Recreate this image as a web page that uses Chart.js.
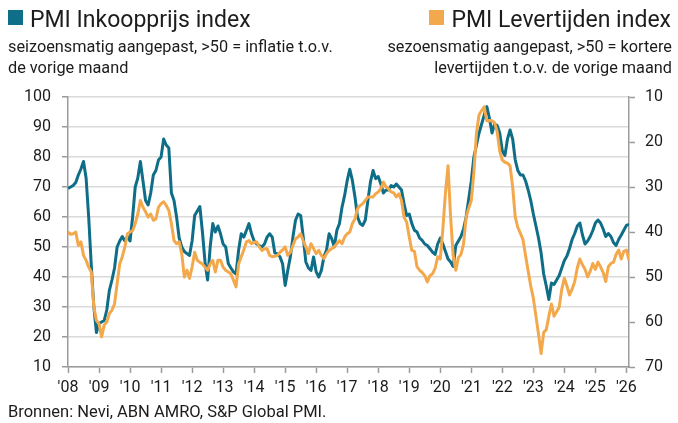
<!DOCTYPE html>
<html><head><meta charset="utf-8">
<script src="https://cdn.jsdelivr.net/npm/chart.js@4.4.1/dist/chart.umd.min.js"></script>
<style>
html,body{margin:0;padding:0;background:#fff;}
#wrap{position:relative;width:678px;height:423px;overflow:hidden;font-family:Roboto,"Noto Sans",sans-serif;color:#1c1c1c;background:#fff;}
#c{position:absolute;left:0;top:0;}
.t{position:absolute;white-space:nowrap;}
.title{font-size:23px;line-height:23px;}
.sub{font-size:16.3px;line-height:20.5px;}
.sq{position:absolute;width:15px;height:15px;}
</style></head>
<body><div id="wrap">
<canvas id="c" width="678" height="423" style="width:678px;height:423px"></canvas>
<div class="sq" style="left:8px;top:10px;background:#0f6f88"></div>
<div class="t title" style="left:30px;top:7.5px">PMI Inkoopprijs index</div>
<div class="t sub" style="left:8px;top:37px">seizoensmatig aangepast, &gt;50 = inflatie t.o.v.<br>de vorige maand</div>
<div class="sq" style="left:429px;top:10px;background:#f2a84c"></div>
<div class="t title" style="right:7px;top:7.5px">PMI Levertijden index</div>
<div class="t sub" style="right:6px;top:37px;text-align:right">sezoensmatig aangepast, &gt;50 = kortere<br>levertijden t.o.v. de vorige maand</div>
<div class="t sub" style="left:8px;top:404px;font-size:16.5px;line-height:16.5px">Bronnen: Nevi, ABN AMRO, S&amp;P Global PMI.</div>
</div>
<script>
// months since Jan 2008 (index 0) ... Feb 2026 (index 217)
const yearLabels = ["'08","'09","'10","'11","'12","'13","'14","'15","'16","'17","'18","'19","'20","'21","'22","'23","'24","'25","'26"];
const yearTicks = [0,12,24,36,48,60,72,84,96,108,120,132,144,156,168,180,192,204,216];

const inkoopprijs = [
69.5,70,70.5,71.5,74,76,78.5,73,60,44,30,21.5,
24.5,25,25.5,29,35.5,39,43,50,52,53.5,52,53.5,
52,60,70,73,78.5,72,65.5,64,68,74,75.5,79,
80,86,84,83,68,65.5,60,53,50,48.5,47.8,47.2,
52,60.5,62,63.5,55,45,39,50,57.8,55,57,54.4,
51,50,44.5,43,41.7,41,49,54.4,53.3,55.5,57.8,54.4,
52,51,50.5,50,51,53.3,54.4,53.3,48,47.8,46.7,44.4,
37.2,42.2,46.7,53.3,58.9,61,60.5,53.3,45,43,42.2,46.7,
41.7,40,42.2,46.7,49,54.4,52.8,50,55.6,57.8,63.3,67.2,
72.2,75.9,72.2,66.7,60,57.8,57.2,59,65.5,71.7,75.5,72.8,
73.5,71,68,69,69,70.5,70,71,70,69,64.4,60.5,
61,57.8,55.6,55,53,52.2,51,50.5,49.4,48.3,47.5,51,
53,51,48.5,46,45,43.5,50.5,52,53.5,56,60,66,
72,80,84,88,91,94,96.8,93,88,91,90.5,88,
82,80.5,86,89,86,79,75.5,74,74,72,69,65.5,
61,57,53,48,41,37,32.5,38,37.5,39,40.5,43,
45.5,47,49.5,52.5,54.5,57,58,54,51,52,53.5,55.5,
58,59,58,56,53.5,54.5,53.5,51.5,50.5,52.5,54,55.6,
57.2,57.5
];

const levertijden = [
40,40.5,40.4,40,43,42.2,45.2,46.3,47.8,48.9,56.7,59.7,
60.4,63.3,60.7,60,58.1,57.4,56,51.5,47.1,45.5,43.3,40.4,
40,39.7,38.1,36,33,34.5,35.5,36.7,36,37.4,37.1,34.5,
33.7,33.3,34.1,35.2,38.1,41.9,42.6,42.2,44.8,50,48.5,50.3,
47.8,44.5,46.3,46.7,47.1,47.8,48.5,47.1,46.3,48.9,46.3,46.3,
47.8,48.5,48.9,49.3,50.7,52.2,47.1,45.5,44,42.2,41.9,42.6,
42.3,42.2,43.3,44.1,43.7,43.7,45.2,45.5,45.4,45.2,44.5,44,
43.3,45.2,44.5,43,41.5,41.1,40.4,42,43.3,44.8,42.6,43.7,
44.8,44.1,45.2,45.9,44.8,44.1,43.7,43.3,42.6,41.9,42.6,41.1,
40.4,40,38.1,37.1,34.8,34.1,33.7,33,32.2,32.2,32.2,31.5,
31.1,30.4,28.9,30,30.4,31.1,31.3,32.2,31.5,33,36.7,37.8,
41.1,44.1,44.3,47.7,48.5,49,49.7,51.1,49.7,49.3,48.1,45.5,
46,39.3,31.3,25.3,36.7,45.3,48.5,45.7,45,42.7,36.7,34.7,
33,26.7,18,14,13,12.2,15.3,15.2,15.3,15.7,17.7,22,
24,24.5,24.7,25.3,30,36.7,39,40.3,41.7,45.3,48.7,52,
54.7,58.7,62.7,67,62.3,61.7,58.7,56,58.7,57.7,56.7,52.7,
50.3,52,54,52.7,51,48,46,47.3,48.3,50,48.7,47,
48.3,46.7,47.7,49,51,47.7,47,46.7,45,44,46,44.3,
44,46.3
];

const tealColor = '#0f6e87';
const orangeColor = '#f3a94b';
const axisColor = '#9b9b9b';
const gridColor = '#dadada';
const tickFont = {family:'Roboto', size:16};
const tickColor = '#1c1c1c';

const toPoints = arr => arr.map((v,i)=>({x:i,y:v}));

new Chart(document.getElementById('c'), {
  type:'line',
  data:{datasets:[
    {label:'PMI Levertijden index', data:toPoints(levertijden), yAxisID:'y2', borderColor:orangeColor, backgroundColor:orangeColor, borderWidth:3, pointRadius:0, tension:0, order:0, borderJoinStyle:'round'},
    {label:'PMI Inkoopprijs index', data:toPoints(inkoopprijs), yAxisID:'y', borderColor:tealColor, backgroundColor:tealColor, borderWidth:3, pointRadius:0, tension:0, order:1, borderJoinStyle:'round'}
  ]},
  options:{
    responsive:false, animation:false, devicePixelRatio:1,
    layout:{padding:{top:97,left:0,right:0,bottom:0}},
    plugins:{legend:{display:false}, tooltip:{enabled:false}},
    scales:{
      x:{type:'linear', min:0, max:217,
        afterBuildTicks: s => { s.ticks = yearTicks.map(v=>({value:v})); },
        afterFit: s => { s.height = 56; },
        grid:{drawOnChartArea:false, drawTicks:true, tickLength:6, tickColor:axisColor, tickWidth:1.5},
        border:{display:true, color:axisColor, width:1.5},
        ticks:{callback:(v)=>yearLabels[Math.round(v/12)], font:tickFont, color:tickColor, padding:5, maxRotation:0, autoSkip:false}
      },
      y:{position:'left', min:10, max:100,
        afterFit: s => { s.width = 68; },
        ticks:{stepSize:10, font:tickFont, color:tickColor, padding:11},
        grid:{color:gridColor, lineWidth:1.5, tickLength:6, tickColor:axisColor, tickWidth:1.5},
        border:{display:true, color:axisColor, width:1.5}
      },
      y2:{position:'right', reverse:true, min:10, max:70,
        afterFit: s => { s.width = 49; },
        ticks:{stepSize:10, font:tickFont, color:tickColor, padding:10},
        grid:{drawOnChartArea:false, tickLength:6, tickColor:axisColor, tickWidth:1.5},
        border:{display:true, color:axisColor, width:1.5}
      }
    }
  }
});
</script>
</body></html>
